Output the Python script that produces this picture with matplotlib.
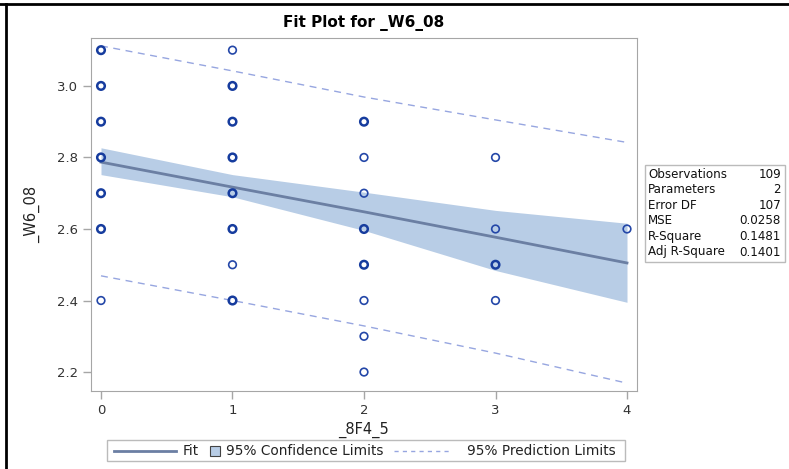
"""
Fit plot for _W6_08 vs _8F4_5 with confidence band and prediction limits.
"""

from matplotlib import pyplot as plt
from matplotlib.lines import Line2D
from matplotlib.patches import Rectangle
import numpy as np

plt.rcParams['font.family'] = ['DejaVu Sans']

# observed points (x, y) and how heavy the marker looks (overlapping obs)
obs_x = [0, 0, 0, 0, 0, 0, 0,
         1, 1, 1, 1, 1, 1, 1, 1,
         2, 2, 2, 2, 2, 2, 2, 2,
         3, 3, 3, 3,
         4]
obs_y = [3.1, 3.0, 2.9, 2.8, 2.7, 2.6, 2.4,
         3.1, 3.0, 2.9, 2.8, 2.7, 2.6, 2.5, 2.4,
         2.9, 2.8, 2.7, 2.6, 2.5, 2.4, 2.3, 2.2,
         2.8, 2.6, 2.5, 2.4,
         2.6]
obs_heavy = [1, 1, 1, 1, 1, 1, 0,
             0, 1, 1, 1, 1, 1, 0, 1,
             1, 0, 0, 1, 1, 0, 0, 0,
             0, 0, 1, 0,
             0]

# fit line, confidence band and prediction limits read at x = 0..4
grid_x = [0, 1, 2, 3, 4]
fit_y = [2.787, 2.717, 2.648, 2.577, 2.505]
cl_lower = [2.752, 2.690, 2.596, 2.484, 2.395]
cl_upper = [2.827, 2.752, 2.703, 2.652, 2.616]
pl_lower = [2.469, 2.400, 2.329, 2.253, 2.169]
pl_upper = [3.112, 3.042, 2.969, 2.905, 2.842]

stat_names = ['Observations', 'Parameters', 'Error DF', 'MSE',
              'R-Square', 'Adj R-Square']
stat_values = ['109', '2', '107', '0.0258', '0.1481', '0.1401']

legend_labels = ['Fit', '95% Confidence Limits', '95% Prediction Limits']

fit_color = '#6B7FA3'
band_color = '#B8CDE6'
pred_color = '#97A6E0'
marker_color = '#2447A8'
frame_color = '#A6A6A6'

W, H = 789, 469
fig = plt.figure(figsize=(W / 100, H / 100), dpi=100)
ax = fig.add_axes([91 / W, 1 - 391 / H, 546 / W, 353 / H])


def fx(px):
    return px / W


def fy(py):
    return 1 - py / H


ax.fill_between(grid_x, cl_lower, cl_upper, color=band_color, lw=0,
                zorder=1)
ax.plot(grid_x, fit_y, '-', color=fit_color, lw=2, zorder=2)
ax.plot(grid_x, pl_upper, '--', color=pred_color, lw=1, dashes=(5, 4),
        zorder=2)
ax.plot(grid_x, pl_lower, '--', color=pred_color, lw=1, dashes=(5, 4),
        zorder=2)

obs_x = np.array(obs_x)
obs_y = np.array(obs_y)
heavy = np.array(obs_heavy) == 1
ax.scatter(obs_x[~heavy], obs_y[~heavy], s=30, facecolors='none',
           edgecolors=marker_color, linewidths=1.2, zorder=3)
ax.scatter(obs_x[heavy], obs_y[heavy], s=30, facecolors='none',
           edgecolors='#163C9E', linewidths=1.8, zorder=3)

ax.set_xlim(-0.076, 4.076)
ax.set_ylim(2.147, 3.134)
ax.set_xticks([0, 1, 2, 3, 4])
ax.set_yticks([2.2, 2.4, 2.6, 2.8, 3.0])
ax.set_yticklabels(['2.2', '2.4', '2.6', '2.8', '3.0'])
for sp in ax.spines.values():
    sp.set_color(frame_color)
ax.tick_params(colors=frame_color, labelcolor='#333333', labelsize=9.5,
               length=6, width=1)

ax.set_title('Fit Plot for _W6_08', fontsize=11, fontweight='bold',
             pad=8)
ax.set_xlabel('_8F4_5', fontsize=10.5, color='#222222', labelpad=3)
ax.set_ylabel('_W6_08', fontsize=10.5, color='#222222', labelpad=12)

# statistics box
fig.patches.append(Rectangle((fx(645), fy(262)), 140 / W, 97 / H,
                             transform=fig.transFigure, fill=False,
                             edgecolor='#BBBBBB', lw=1))
row_y = [174, 189, 205, 220, 236, 252]
for name, val, y in zip(stat_names, stat_values, row_y):
    fig.text(fx(648), fy(y), name, fontsize=8.6, va='center',
             color='#111111')
    fig.text(fx(781), fy(y), val, fontsize=8.6, va='center', ha='right',
             color='#111111')

# legend, laid out by hand like the SAS one
leg_y = 451
fig.patches.append(Rectangle((fx(107), fy(461)), 518 / W, 21 / H,
                             transform=fig.transFigure, fill=False,
                             edgecolor='#BBBBBB', lw=1))
fig.add_artist(Line2D([fx(114), fx(176)], [fy(leg_y), fy(leg_y)],
                      color=fit_color, lw=2, transform=fig.transFigure))
fig.text(fx(183), fy(leg_y), legend_labels[0], fontsize=9.8, va='center',
         color='#222222')
fig.patches.append(Rectangle((fx(210), fy(leg_y + 5)), 10 / W, 10 / H,
                             transform=fig.transFigure,
                             facecolor=band_color, edgecolor='#444444',
                             lw=0.8))
fig.text(fx(226), fy(leg_y), legend_labels[1], fontsize=9.8, va='center',
         color='#222222')
fig.add_artist(Line2D([fx(394), fx(452)], [fy(leg_y), fy(leg_y)],
                      color=pred_color, lw=1, ls='--', dashes=(3, 3),
                      transform=fig.transFigure))
fig.text(fx(467), fy(leg_y), legend_labels[2], fontsize=9.8, va='center',
         color='#222222')

# black screenshot frame lines at top and left
fig.add_artist(Line2D([0, 1], [fy(4), fy(4)], color='black', lw=2,
                      transform=fig.transFigure))
fig.add_artist(Line2D([fx(6), fx(6)], [0, fy(4)], color='black', lw=2,
                      transform=fig.transFigure))

plt.savefig('out.png', dpi=100)
plt.close()
